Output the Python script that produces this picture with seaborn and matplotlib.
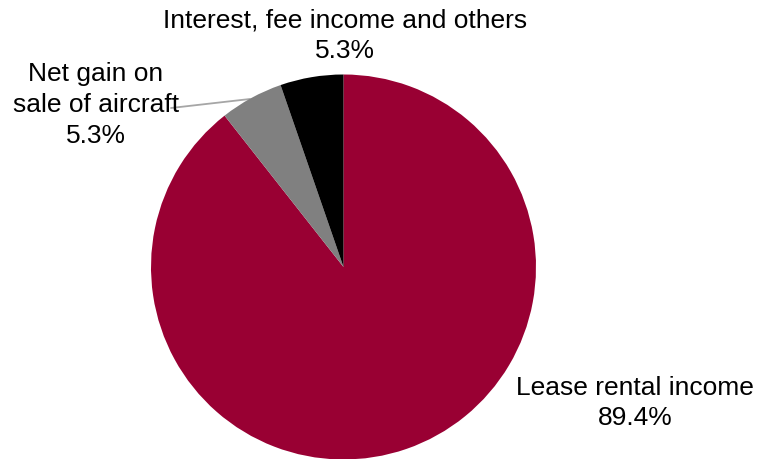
import matplotlib
matplotlib.use("Agg")
import matplotlib.pyplot as plt
import seaborn as sns

# Revenue breakdown
labels = ["Lease rental income", "Net gain on\nsale of aircraft", "Interest, fee income and others"]
values = [89.4, 5.3, 5.3]
colors = ["#990033", "#808080", "#000000"]

sns.set_theme(style="white")
plt.rcParams["font.family"] = ["Liberation Sans", "DejaVu Sans"]

W, H = 759, 459
fig = plt.figure(figsize=(W / 100, H / 100), dpi=100)
ax = fig.add_axes([0, 0, 1, 1])

cx, cy, r = 343.5, H - 267, 192.5
ax.pie(values, colors=colors, startangle=90, counterclock=False,
       radius=r, center=(cx, cy), frame=True,
       wedgeprops=dict(linewidth=0))

ax.set_xlim(0, W)
ax.set_ylim(0, H)
ax.set_aspect("equal")
ax.axis("off")

fs = 19
text_kw = dict(ha="center", va="center", fontsize=fs, color="black", linespacing=1.35)

# Labels with percentages
ax.text(635, H - 403, f"{labels[0]}\n{values[0]:.1f}%", **text_kw)
ax.text(96, H - 105, f"{labels[1]}\n{values[1]:.1f}%", **text_kw)
ax.text(345, H - 36, f"{labels[2]}\n{values[2]:.1f}%", **text_kw)

# Leader line for the small grey slice
ax.plot([250, 171], [H - 99, H - 108], color="#A6A6A6", linewidth=1.3, zorder=0.5)

fig.savefig("out.png", dpi=100, facecolor="white")
